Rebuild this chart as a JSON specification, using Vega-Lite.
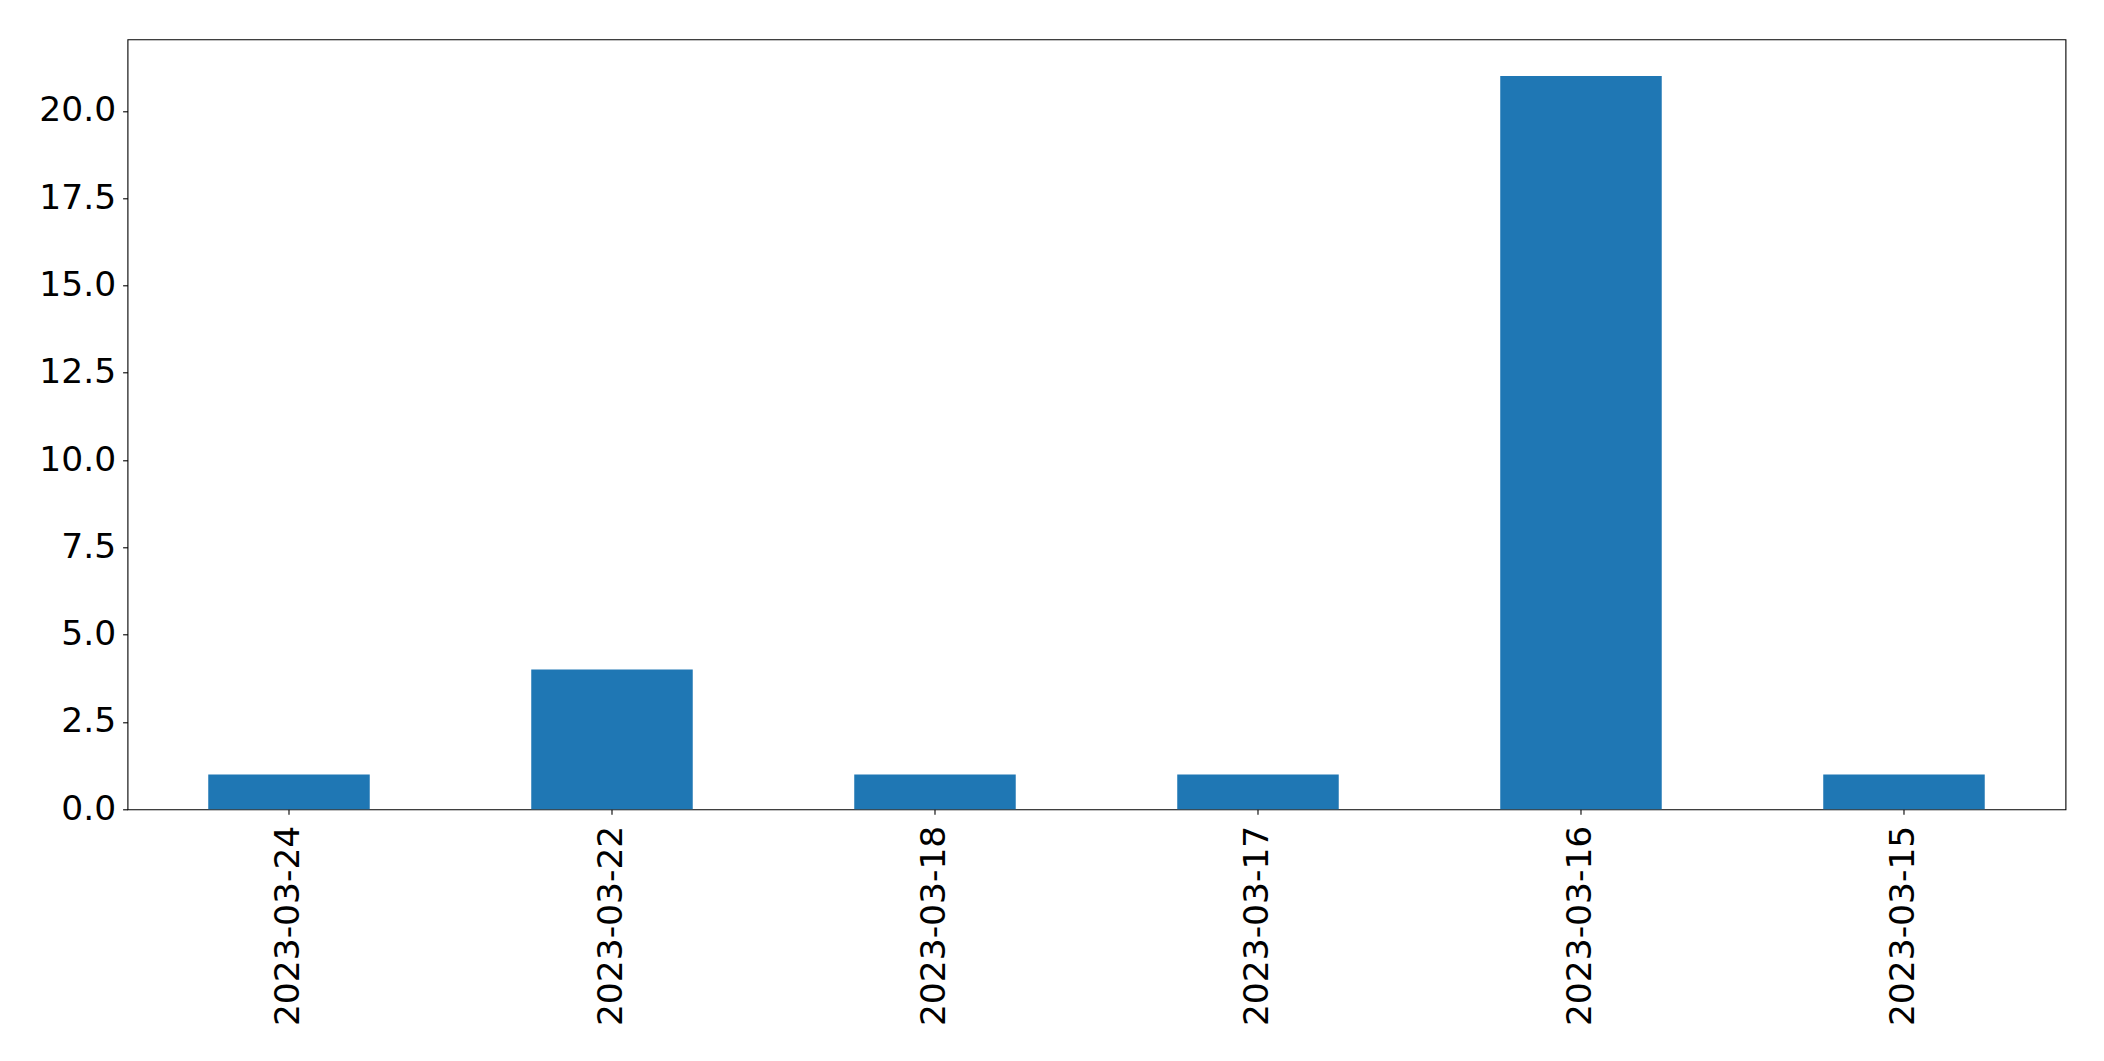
{
  "$schema": "https://vega.github.io/schema/vega-lite/v6.json",
  "autosize": "none",
  "width": 1938,
  "height": 770,
  "padding": {"left": 127.5, "top": 39.3, "right": 38.7, "bottom": 251.7},
  "background": "white",
  "config": {
    "view": {"stroke": "black", "strokeWidth": 1.1, "strokeOpacity": 1},
    "axis": {
      "labelFont": "DejaVu Sans",
      "labelFontSize": 34.5,
      "labelColor": "black",
      "labelLimit": 500,
      "tickColor": "black",
      "tickSize": 4.9,
      "tickWidth": 1.1,
      "domain": false,
      "grid": false,
      "title": null
    }
  },
  "data": {
    "values": [
      {"date": "2023-03-24", "count": 1},
      {"date": "2023-03-22", "count": 4},
      {"date": "2023-03-18", "count": 1},
      {"date": "2023-03-17", "count": 1},
      {"date": "2023-03-16", "count": 21},
      {"date": "2023-03-15", "count": 1}
    ]
  },
  "mark": {"type": "bar", "color": "#1f77b4"},
  "encoding": {
    "x": {
      "field": "date",
      "type": "nominal",
      "sort": null,
      "scale": {"paddingInner": 0.5, "paddingOuter": 0.25},
      "axis": {"labelAngle": -90, "labelPadding": 11, "labelAlign": "right", "labelBaseline": "middle"}
    },
    "y": {
      "field": "count",
      "type": "quantitative",
      "scale": {"domain": [0, 22.05], "nice": false, "zero": true},
      "axis": {"values": [0, 2.5, 5, 7.5, 10, 12.5, 15, 17.5, 20], "format": ".1f", "labelPadding": 7}
    }
  }
}
